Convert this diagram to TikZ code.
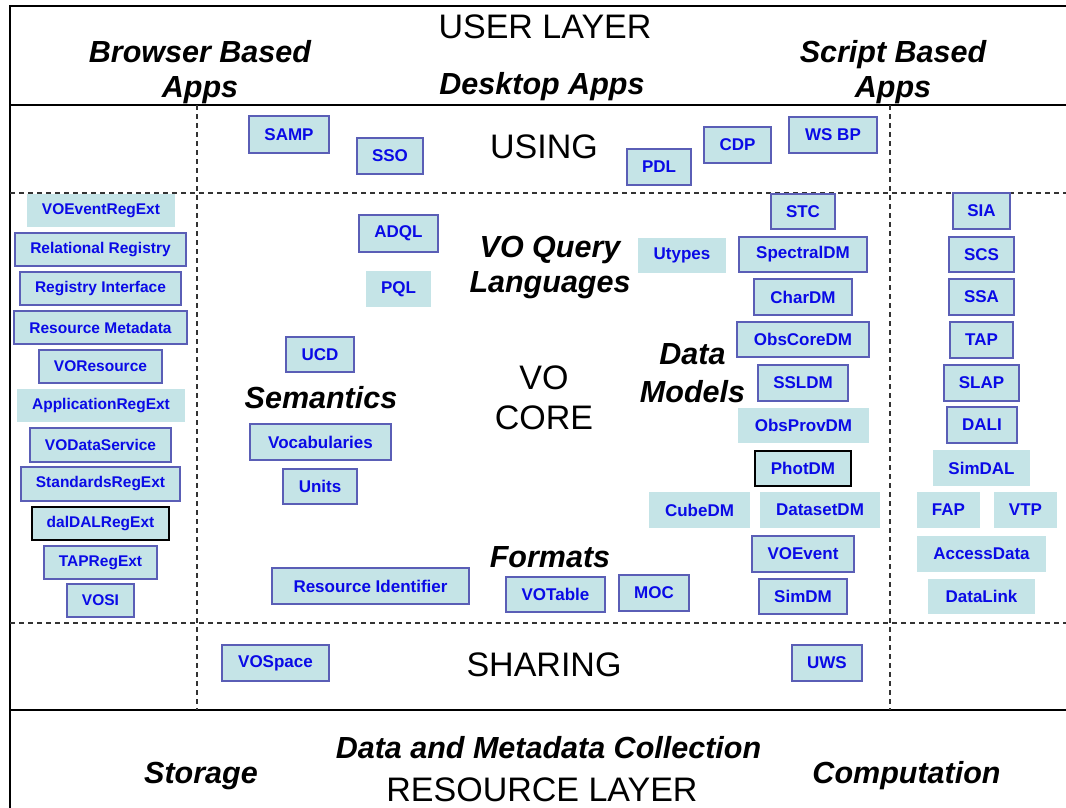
\documentclass[tikz,border=0pt]{standalone}
\usepackage{fontspec}
\setmainfont{Liberation Sans}

\definecolor{cian}{RGB}{197,228,231}
\definecolor{bordeazul}{RGB}{90,94,182}
\definecolor{azul}{RGB}{10,10,230}

\tikzset{
	caja/.style={draw=bordeazul, fill=cian, line width=1.3pt, text=azul, inner sep=0pt, font=\bfseries\fontsize{17}{20}\selectfont},
	cajareg/.style={caja, font=\bfseries\fontsize{15.5}{18}\selectfont},
	sinborde/.style={draw=none},
	negro/.style={draw=black},
	tam/.style 2 args={minimum width=#1, minimum height=#2},
	capa/.style={font=\fontsize{34}{40}\selectfont, inner sep=0pt, align=center},
	titulo/.style={font=\bfseries\itshape\fontsize{30.5}{35}\selectfont, inner sep=0pt, align=center},
	linea/.style={line width=2pt},
	trazos/.style={line width=1.5pt, dash pattern=on 5pt off 4pt, draw=black!80}
}

\begin{document}
\begin{tikzpicture}[x=1pt, y=-1pt]
	\useasboundingbox (0,0) rectangle (1066,807);
	
	% Marco y capas
	\draw[linea] (10,6) rectangle (1090,830);
	\draw[linea] (10,105) -- (1090,105);
	\draw[linea] (10,710) -- (1090,710);
	\draw[trazos] (10,193) -- (1090,193);
	\draw[trazos] (10,623) -- (1090,623);
	\draw[trazos] (197,105) -- (197,710);
	\draw[trazos] (890,105) -- (890,710);
	
	% Textos de las capas
	\node[capa, anchor=base] (user) at (545,38) {USER LAYER};
	\node[titulo, anchor=base] (desktop) at (542,94) {Desktop Apps};
	\node[titulo] (browser) at (200,72.5) {Browser Based\\Apps};
	\node[titulo] (script) at (893,72.5) {Script Based\\Apps};
	\node[capa, anchor=base] (using) at (544,158) {USING};
	\node[capa, font=\fontsize{34}{40}\selectfont] (core) at (544,398) {VO\\CORE};
	\node[titulo] (query) at (550,267.5) {VO Query\\Languages};
	\node[titulo, anchor=base] (semantics) at (321,408) {Semantics};
	\node[titulo, font=\bfseries\itshape\fontsize{30.5}{38}\selectfont] (models) at (692.5,373) {Data\\Models};
	\node[titulo, anchor=base] (formats) at (550,567) {Formats};
	\node[capa, anchor=base] (sharing) at (544,676) {SHARING};
	\node[titulo, anchor=base] (collection) at (548.5,758) {Data and Metadata Collection};
	\node[titulo, anchor=base] (storage) at (201,783) {Storage};
	\node[titulo, anchor=base] (computation) at (906.5,783) {Computation};
	\node[capa, anchor=base] (resource) at (542,801) {RESOURCE LAYER};
	
	% USING
	\node[caja, tam={80}{37}] (samp) at (289,134.5) {SAMP};
	\node[caja, tam={66}{36}] (sso) at (390,156) {SSO};
	\node[caja, tam={64}{36}] (pdl) at (659,167) {PDL};
	\node[caja, tam={67}{36}] (cdp) at (737.5,145) {CDP};
	\node[caja, tam={88}{36}] (wsbp) at (833,135) {WS BP};
	
	% Registro (columna izquierda)
	\node[cajareg, sinborde, tam={148}{33}] (voeventregext) at (101,210.5) {VOEventRegExt};
	\node[cajareg, tam={171}{33}] (relreg) at (100.5,249.5) {Relational Registry};
	\node[cajareg, tam={161}{33}] (reginterface) at (100.5,288.5) {Registry Interface};
	\node[cajareg, tam={173}{33}] (resmeta) at (100.5,327.5) {Resource Metadata};
	\node[cajareg, tam={123}{33}] (voresource) at (100.5,366.5) {VOResource};
	\node[cajareg, sinborde, tam={168}{33}] (appregext) at (101,405.5) {ApplicationRegExt};
	\node[cajareg, tam={141}{34}] (vodataservice) at (100.5,445) {VODataService};
	\node[cajareg, tam={159}{34}] (stdregext) at (100.5,484) {StandardsRegExt};
	\node[cajareg, negro, tam={137}{33}] (dalregext) at (100.5,523.5) {dalDALRegExt};
	\node[cajareg, tam={113}{33}] (tapregext) at (100.5,562.5) {TAPRegExt};
	\node[cajareg, tam={67}{33}] (vosi) at (100.5,600.5) {VOSI};
	
	% Lenguajes, semantica y formatos
	\node[caja, tam={79}{37}] (adql) at (398.5,233.5) {ADQL};
	\node[caja, sinborde, tam={65}{36}] (pql) at (398.5,289) {PQL};
	\node[caja, sinborde, tam={88}{35}] (utypes) at (682,255.5) {Utypes};
	\node[caja, tam={68}{35}] (ucd) at (320,354.5) {UCD};
	\node[caja, tam={141}{36}] (vocab) at (320.5,442) {Vocabularies};
	\node[caja, tam={74}{35}] (units) at (320,486.5) {Units};
	\node[caja, tam={197}{36}] (resid) at (370.5,586) {Resource Identifier};
	\node[caja, tam={99}{35}] (votable) at (555.5,594.5) {VOTable};
	\node[caja, tam={70}{36}] (moc) at (654,593) {MOC};
	
	% Modelos de datos
	\node[caja, tam={64}{35}] (stc) at (803,211.5) {STC};
	\node[caja, tam={128}{35}] (spectraldm) at (803,254.5) {SpectralDM};
	\node[caja, tam={98}{36}] (chardm) at (803,297) {CharDM};
	\node[caja, tam={132}{35}] (obscoredm) at (803,339.5) {ObsCoreDM};
	\node[caja, tam={90}{36}] (ssldm) at (803,383) {SSLDM};
	\node[caja, sinborde, tam={131}{35}] (obsprovdm) at (803.5,425.5) {ObsProvDM};
	\node[caja, negro, tam={96}{35}] (photdm) at (803,468.5) {PhotDM};
	\node[caja, sinborde, tam={101}{36}] (cubedm) at (699.5,510) {CubeDM};
	\node[caja, sinborde, tam={120}{36}] (datasetdm) at (820,510) {DatasetDM};
	\node[caja, tam={102}{36}] (voevent) at (803,554) {VOEvent};
	\node[caja, tam={88}{35}] (simdm) at (803,596.5) {SimDM};
	
	% Acceso a datos (columna derecha)
	\node[caja, tam={57}{36}] (sia) at (981.5,211) {SIA};
	\node[caja, tam={65}{35}] (scs) at (981.5,254.5) {SCS};
	\node[caja, tam={65}{36}] (ssa) at (981.5,297) {SSA};
	\node[caja, tam={63}{36}] (tap) at (981.5,340) {TAP};
	\node[caja, tam={75}{36}] (slap) at (981.5,383) {SLAP};
	\node[caja, tam={70}{36}] (dali) at (982,425) {DALI};
	\node[caja, sinborde, tam={97}{36}] (simdal) at (981.5,468) {SimDAL};
	\node[caja, sinborde, tam={63}{36}] (fap) at (948.5,510) {FAP};
	\node[caja, sinborde, tam={63}{36}] (vtp) at (1025.5,510) {VTP};
	\node[caja, sinborde, tam={129}{36}] (accessdata) at (981.5,554) {AccessData};
	\node[caja, sinborde, tam={107}{35}] (datalink) at (981.5,596.5) {DataLink};
	
	% SHARING
	\node[caja, tam={107}{36}] (vospace) at (275.5,663) {VOSpace};
	\node[caja, tam={70}{36}] (uws) at (827,663) {UWS};
	
\end{tikzpicture}
\end{document}
